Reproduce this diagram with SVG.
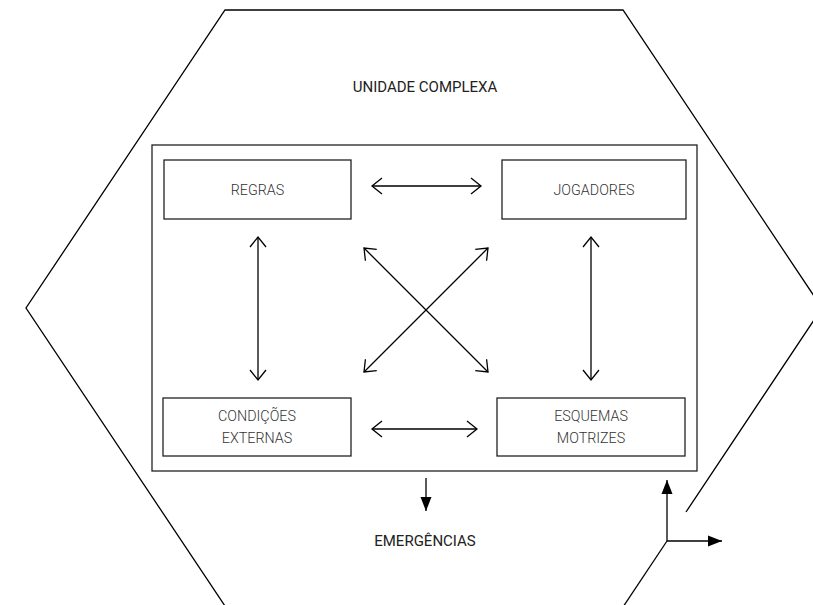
<svg xmlns="http://www.w3.org/2000/svg" width="813" height="605" viewBox="0 0 813 605">
<style>
.ln{fill:none;stroke:#000;stroke-width:1.3}
.box{fill:#fff;stroke:#222;stroke-width:1.3}
.lbl{font-family:Roboto,"Liberation Sans",sans-serif;font-size:14.3px;font-weight:300;fill:#333;text-anchor:middle}
.ttl{font-family:Roboto,"Liberation Sans",sans-serif;font-size:15px;fill:#222;text-anchor:middle}
</style>
<defs>
<marker id="openE" markerUnits="userSpaceOnUse" markerWidth="14" markerHeight="20" viewBox="-12 -10 14 20" refX="0" refY="0" orient="auto-start-reverse">
<path d="M-10,-8 L0,0 L-10,8" fill="none" stroke="#000" stroke-width="1.3"/>
</marker>
<marker id="fill" markerUnits="userSpaceOnUse" markerWidth="16" markerHeight="14" viewBox="-15 -7 16 14" refX="0" refY="0" orient="auto">
<path d="M-14,-5.5 L0,0 L-14,5.5 Z" fill="#000"/>
</marker>
</defs>
<g id="hexagon">
<path class="ln" d="M686,512 L822,308 L623,10 L225,10 L26,308 L225,606"/>
<path class="ln" d="M667,541 L623,607"/>
</g>
<text class="ttl" x="425" y="92">UNIDADE COMPLEXA</text>
<g id="complexo">
<rect class="box" x="152" y="145" width="545" height="326"/>
</g>
<g id="regras">
<rect class="box" x="164" y="160" width="187" height="59"/>
<text class="lbl" x="257.5" y="195">REGRAS</text>
</g>
<g id="jogadores">
<rect class="box" x="502" y="160" width="184" height="59"/>
<text class="lbl" x="594" y="195">JOGADORES</text>
</g>
<g id="condicoes">
<rect class="box" x="163" y="398" width="188" height="58"/>
<text class="lbl" x="257" y="421">CONDIÇÕES</text>
<text class="lbl" x="257" y="443">EXTERNAS</text>
</g>
<g id="esquemas">
<rect class="box" x="497" y="398" width="188" height="58"/>
<text class="lbl" x="591" y="421">ESQUEMAS</text>
<text class="lbl" x="591" y="443">MOTRIZES</text>
</g>
<g id="emergencias">
<text class="ttl" x="425" y="546">EMERGÊNCIAS</text>
</g>
<g id="connectors">
<line class="ln" x1="372" y1="186" x2="481" y2="186" marker-start="url(#openE)" marker-end="url(#openE)"/>
<line class="ln" x1="372" y1="429" x2="477" y2="429" marker-start="url(#openE)" marker-end="url(#openE)"/>
<line class="ln" x1="258" y1="237" x2="258" y2="380" marker-start="url(#openE)" marker-end="url(#openE)"/>
<line class="ln" x1="591" y1="237" x2="591" y2="380" marker-start="url(#openE)" marker-end="url(#openE)"/>
<line class="ln" x1="364" y1="248" x2="488" y2="372" marker-start="url(#openE)" marker-end="url(#openE)"/>
<line class="ln" x1="488" y1="248" x2="364" y2="372" marker-start="url(#openE)" marker-end="url(#openE)"/>
<line class="ln" x1="426" y1="478" x2="426" y2="511" marker-end="url(#fill)"/>
<line class="ln" x1="667" y1="541" x2="667" y2="480" marker-end="url(#fill)"/>
<line class="ln" x1="667" y1="541" x2="722" y2="541" marker-end="url(#fill)"/>
</g>
</svg>
